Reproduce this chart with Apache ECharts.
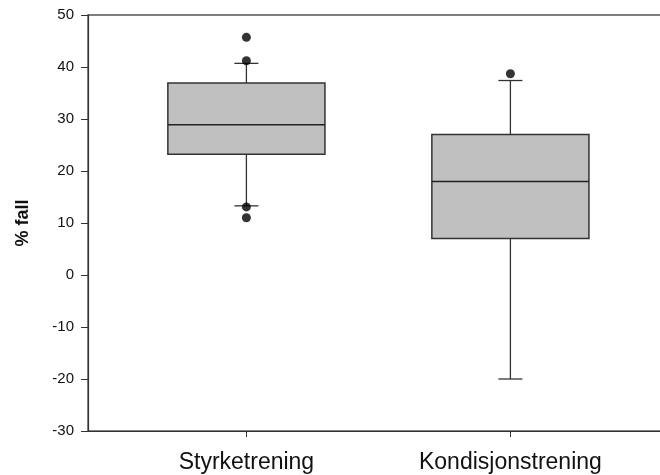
<!DOCTYPE html>
<html>
<head>
<meta charset="utf-8">
<script src="https://cdn.jsdelivr.net/npm/echarts@6/dist/echarts.min.js"></script>
<style>
  html, body { margin: 0; padding: 0; background: #fff; }
  #chart { width: 660px; height: 475px; }
</style>
</head>
<body>
<div id="chart"></div>
<script>
// Groups on the x axis (positions 1 and 2)
const categories = ['Styrketrening', 'Kondisjonstrening'];
const positions = [1, 2];

// Box statistics per group: [lower whisker, Q1, median, Q3, upper whisker]
const styrkeStats = [13.3, 23.2, 28.9, 36.9, 40.7];
const kondisjonStats = [-20, 7, 18, 27, 37.4];

// Points outside the whiskers
const styrkeOutliers = [45.7, 41.2, 13.1, 11.0];
const kondisjonOutliers = [38.7];

// Y axis tick range
const yMin = -30, yMax = 50, yStep = 10;

const boxData = [
  [positions[0]].concat(styrkeStats),
  [positions[1]].concat(kondisjonStats)
];
const outlierData = styrkeOutliers.map(v => [positions[0], v])
  .concat(kondisjonOutliers.map(v => [positions[1], v]));

const FONT = "'Liberation Sans', Arial, sans-serif";
const BOX_FRACTION = 0.595;
const CAP_HALF = 12;
const LINE = '#333';

function renderBox(params, api) {
  const x = api.value(0);
  const lo = api.coord([x, api.value(1)]);
  const q1 = api.coord([x, api.value(2)]);
  const med = api.coord([x, api.value(3)]);
  const q3 = api.coord([x, api.value(4)]);
  const hi = api.coord([x, api.value(5)]);
  const half = api.size([1, 0])[0] * BOX_FRACTION / 2;
  const cx = lo[0];
  const lineStyle = { stroke: LINE, lineWidth: 1.3, fill: null };
  return {
    type: 'group',
    children: [
      { type: 'line', shape: { x1: cx, y1: q3[1], x2: cx, y2: hi[1] }, style: lineStyle },
      { type: 'line', shape: { x1: cx - CAP_HALF, y1: hi[1], x2: cx + CAP_HALF, y2: hi[1] }, style: lineStyle },
      { type: 'line', shape: { x1: cx, y1: q1[1], x2: cx, y2: lo[1] }, style: lineStyle },
      { type: 'line', shape: { x1: cx - CAP_HALF, y1: lo[1], x2: cx + CAP_HALF, y2: lo[1] }, style: lineStyle },
      { type: 'rect', shape: { x: cx - half, y: q3[1], width: half * 2, height: q1[1] - q3[1] },
        style: { fill: '#c0c0c0', stroke: LINE, lineWidth: 1.5 } },
      { type: 'line', shape: { x1: cx - half, y1: med[1], x2: cx + half, y2: med[1] },
        style: { stroke: '#222', lineWidth: 1.5 } }
    ]
  };
}

const chart = echarts.init(document.getElementById('chart'), null, { renderer: 'canvas' });
chart.setOption({
  animation: false,
  backgroundColor: '#fff',
  grid: {
    left: 88, top: 15, width: 594, height: 416,
    outerBoundsMode: 'none',
    containLabel: false,
    show: true, borderColor: '#555', borderWidth: 1.4, backgroundColor: 'transparent'
  },
  xAxis: {
    type: 'value',
    min: 0.4, max: 2.65,
    splitLine: { show: false },
    axisLine: { show: true, onZero: false, lineStyle: { color: LINE, width: 1.2 } },
    axisTick: { show: true, length: 6, customValues: positions, lineStyle: { color: LINE } },
    axisLabel: {
      customValues: positions,
      formatter: v => categories[positions.indexOf(v)] || '',
      color: '#111', fontFamily: FONT, fontSize: 23, margin: 20
    }
  },
  yAxis: {
    type: 'value',
    min: yMin, max: yMax, interval: yStep,
    splitLine: { show: false },
    axisLine: { show: true, lineStyle: { color: LINE, width: 1.2 } },
    axisTick: { show: true, length: 7, lineStyle: { color: LINE } },
    axisLabel: { color: '#111', fontFamily: FONT, fontSize: 15, margin: 14 },
    name: '% fall',
    nameLocation: 'middle',
    nameGap: 56,
    nameRotate: 90,
    nameTextStyle: { color: '#111', fontFamily: FONT, fontSize: 18, fontWeight: 'bold' }
  },
  series: [
    {
      type: 'custom',
      renderItem: renderBox,
      encode: { x: 0, y: [1, 2, 3, 4, 5] },
      data: boxData,
      z: 2
    },
    {
      type: 'scatter',
      data: outlierData,
      symbol: 'circle',
      symbolSize: 9,
      itemStyle: { color: '#000' },
      z: 3
    }
  ]
});
</script>
</body>
</html>
